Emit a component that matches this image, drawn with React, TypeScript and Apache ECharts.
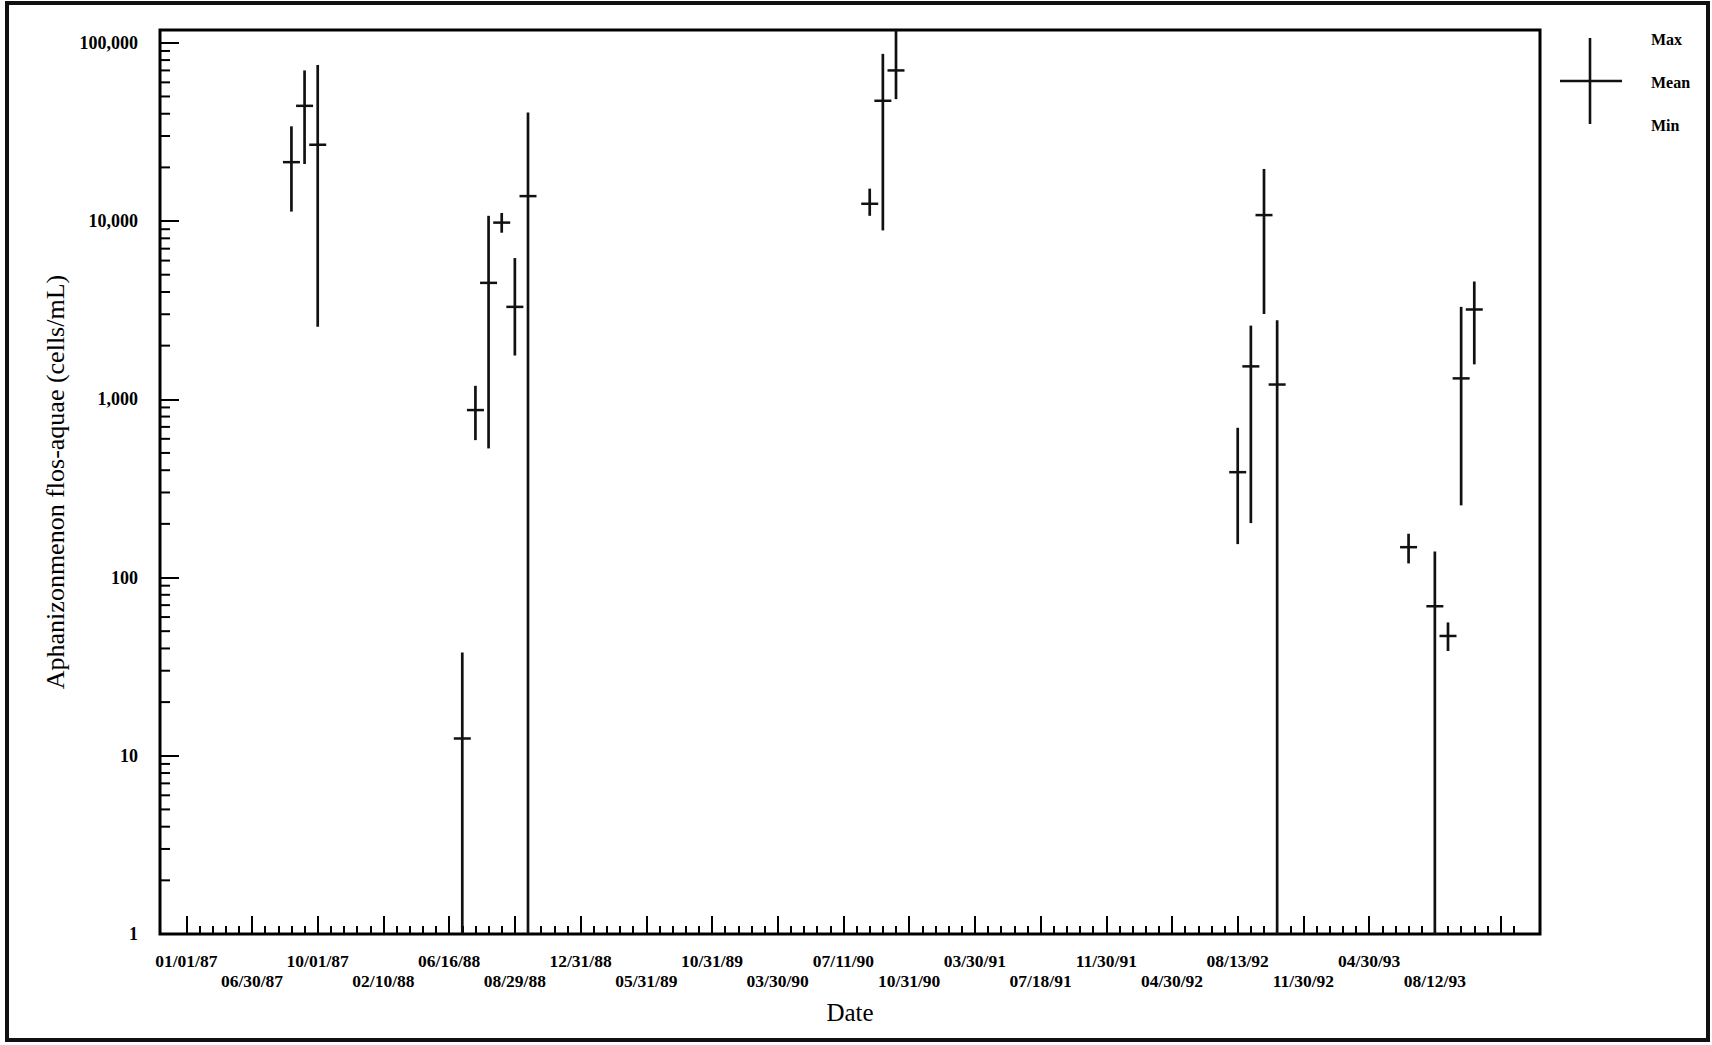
import React, { useEffect, useRef } from "react";
import * as echarts from "echarts";

// Sampling events along the x axis (one tick per event)
const sampleIdx = [10, 11, 12, 23, 24, 25, 26, 27, 28, 54, 55, 56, 82, 83, 84, 85, 95, 97, 98, 99, 100];
const meanVals = [21400, 44300, 26800, 12.5, 870, 4500, 9800, 3300, 13800, 12500, 47300, 70000, 390, 1530, 10800, 1210, 148, 69, 47, 1310, 3190];
const maxVals = [34000, 70000, 75000, 38, 1190, 10700, 11100, 6200, 40600, 15200, 86700, 120000, 692, 2590, 19600, 2780, 176, 140, 56, 3300, 4580];
const minVals = [11300, 20900, 2550, 1, 590, 530, 8600, 1760, 1, 10700, 8860, 48300, 154, 202, 3010, 1, 120, 1, 38.7, 254, 1570];

// Date labels and the sampling event each one sits on
const dateLabels = [
  "01/01/87", "06/30/87", "10/01/87", "02/10/88", "06/16/88", "08/29/88", "12/31/88",
  "05/31/89", "10/31/89", "03/30/90", "07/11/90", "10/31/90", "03/30/91", "07/18/91",
  "11/30/91", "04/30/92", "08/13/92", "11/30/92", "04/30/93", "08/12/93",
];
const dateLabelIdx = [2, 7, 12, 17, 22, 27, 32, 37, 42, 47, 52, 57, 62, 67, 72, 77, 82, 87, 92, 97];
const majorXTicks = [2, 7, 12, 17, 22, 27, 32, 37, 42, 47, 52, 57, 62, 67, 72, 77, 82, 87, 92, 97, 102];
const minorXTicks = Array.from({ length: 102 }, (_, k) => k + 2);

// Log-axis minor ticks (2..9 within each decade)
const minorYTicks: number[] = [];
for (let e = 0; e < 5; e++) for (let m = 2; m <= 9; m++) minorYTicks.push(m * Math.pow(10, e));

const X_MIN = 0;
const X_MAX = 105;
const Y_MIN = 1;
const Y_MAX = 118000;

const FONT = "'Liberation Serif', 'DejaVu Serif', serif";

export default function App() {
  const ref = useRef<HTMLDivElement>(null);

  useEffect(() => {
    if (!ref.current) return;
    const chart = echarts.init(ref.current, undefined, { renderer: "svg" });

    const barData = sampleIdx.map((x, k) => [x, minVals[k], meanVals[k], maxVals[k]]);

    const option: any = {
      animation: false,
      backgroundColor: "#fff",
      grid: {
        left: 160,
        right: 172,
        top: 30,
        bottom: 111,
        show: true,
        borderColor: "#000",
        borderWidth: 3,
        backgroundColor: "transparent",
      },
      xAxis: [
        {
          type: "value",
          min: X_MIN,
          max: X_MAX,
          position: "bottom",
          name: "Date",
          nameLocation: "middle",
          nameGap: 66,
          nameTextStyle: { fontFamily: FONT, fontSize: 25, color: "#000" },
          splitLine: { show: false },
          axisLine: { show: false, onZero: false },
          axisTick: {
            show: true,
            inside: true,
            length: 8,
            customValues: minorXTicks,
            lineStyle: { color: "#000", width: 2 },
          },
          axisLabel: {
            customValues: dateLabelIdx,
            margin: 17,
            fontFamily: FONT,
            fontWeight: "bold",
            fontSize: 17.5,
            lineHeight: 20,
            color: "#000",
            formatter: (v: number) => {
              const k = dateLabelIdx.indexOf(Math.round(v));
              if (k < 0) return "";
              return k % 2 === 0 ? dateLabels[k] : "\n" + dateLabels[k];
            },
          },
        },
        {
          type: "value",
          min: X_MIN,
          max: X_MAX,
          position: "bottom",
          splitLine: { show: false },
          axisLine: { show: false, onZero: false },
          axisLabel: { show: false },
          axisTick: {
            show: true,
            inside: true,
            length: 18,
            customValues: majorXTicks,
            lineStyle: { color: "#000", width: 2 },
          },
        },
      ],
      yAxis: {
        type: "log",
        logBase: 10,
        min: Y_MIN,
        max: Y_MAX,
        name: "Aphanizonmenon flos-aquae (cells/mL)",
        nameLocation: "middle",
        nameGap: 86,
        nameTextStyle: { fontFamily: FONT, fontSize: 26, color: "#000" },
        splitLine: { show: false },
        axisLine: { show: false, onZero: false },
        axisTick: { show: true, inside: true, length: 19, lineStyle: { color: "#000", width: 2 } },
        axisLabel: {
          margin: 22,
          fontFamily: FONT,
          fontWeight: "bold",
          fontSize: 18,
          color: "#000",
          formatter: (v: number) => {
            const e = Math.log10(v);
            if (Math.abs(e - Math.round(e)) > 1e-6) return "";
            return Math.round(v).toLocaleString("en-US");
          },
        },
      },
      series: [
        {
          type: "custom",
          name: "minorY",
          silent: true,
          xAxisIndex: 0,
          data: minorYTicks.map((v) => [X_MIN, v]),
          encode: { x: 0, y: 1 },
          renderItem: (_p: any, api: any) => {
            const p = api.coord([api.value(0), api.value(1)]);
            return {
              type: "line",
              shape: { x1: p[0], y1: p[1], x2: p[0] + 10, y2: p[1] },
              style: { stroke: "#000", lineWidth: 2 },
            };
          },
        },
        {
          type: "custom",
          name: "range",
          silent: true,
          clip: true,
          xAxisIndex: 0,
          data: barData,
          encode: { x: 0, y: [1, 2, 3] },
          renderItem: (_p: any, api: any) => {
            const x = api.value(0);
            const lo = api.coord([x, api.value(1)]);
            const mid = api.coord([x, api.value(2)]);
            const hi = api.coord([x, api.value(3)]);
            return {
              type: "group",
              children: [
                {
                  type: "line",
                  shape: { x1: lo[0], y1: lo[1], x2: hi[0], y2: hi[1] },
                  style: { stroke: "#111", lineWidth: 2.7 },
                },
                {
                  type: "line",
                  shape: { x1: mid[0] - 8.5, y1: mid[1], x2: mid[0] + 8.5, y2: mid[1] },
                  style: { stroke: "#111", lineWidth: 2.5 },
                },
              ],
            };
          },
        },
      ],
      graphic: [
        {
          type: "rect",
          shape: { x: 7, y: 3, width: 1701, height: 1037 },
          style: { fill: "none", stroke: "#111", lineWidth: 4 },
          silent: true,
        },
        // key: Max / Mean / Min glyph
        {
          type: "line",
          shape: { x1: 1590, y1: 38, x2: 1590, y2: 124 },
          style: { stroke: "#111", lineWidth: 2.6 },
        },
        {
          type: "line",
          shape: { x1: 1560, y1: 81, x2: 1622, y2: 81 },
          style: { stroke: "#111", lineWidth: 2.6 },
        },
        {
          type: "text",
          x: 1651,
          y: 39,
          style: { text: "Max", fontFamily: FONT, fontWeight: "bold", fontSize: 16, fill: "#000", verticalAlign: "middle" },
        },
        {
          type: "text",
          x: 1651,
          y: 82,
          style: { text: "Mean", fontFamily: FONT, fontWeight: "bold", fontSize: 16, fill: "#000", verticalAlign: "middle" },
        },
        {
          type: "text",
          x: 1651,
          y: 125,
          style: { text: "Min", fontFamily: FONT, fontWeight: "bold", fontSize: 16, fill: "#000", verticalAlign: "middle" },
        },
      ],
    };

    chart.setOption(option);
    return () => chart.dispose();
  }, []);

  return (
    <div
      ref={ref}
      style={{ position: "absolute", left: 0, top: 0, width: 1712, height: 1045 }}
    />
  );
}
